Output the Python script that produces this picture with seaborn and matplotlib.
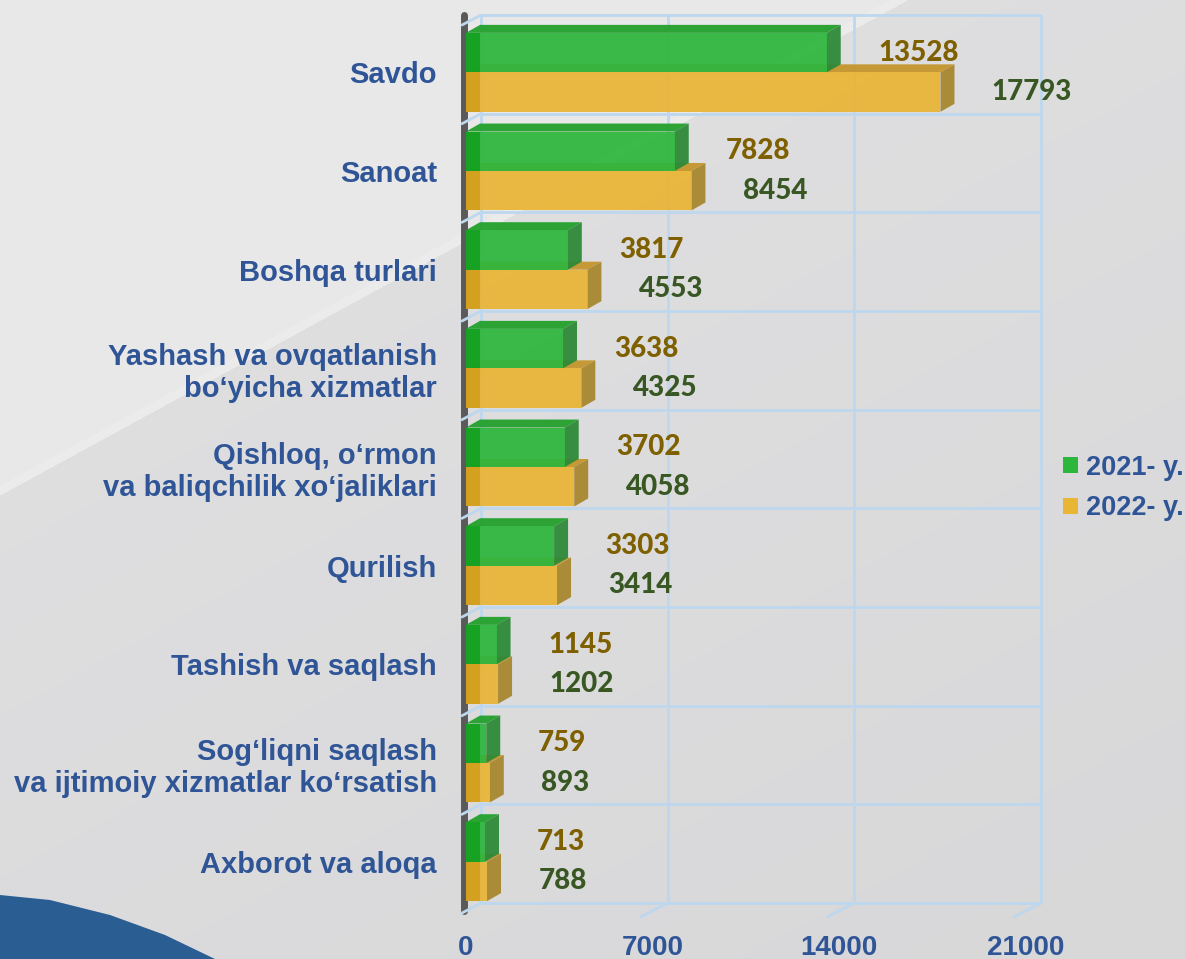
import numpy as np
import pandas as pd
import matplotlib
matplotlib.use("Agg")
import matplotlib.pyplot as plt
import seaborn as sns
from matplotlib.patches import Polygon, Patch
from matplotlib.lines import Line2D
from matplotlib.transforms import offset_copy, IdentityTransform

# ---------------- data ----------------
categories = [
    "Savdo",
    "Sanoat",
    "Boshqa turlari",
    "Yashash va ovqatlanish\nbo\u2018yicha xizmatlar",
    "Qishloq, o\u2018rmon\nva baliqchilik xo\u2018jaliklari",
    "Qurilish",
    "Tashish va saqlash",
    "Sog\u2018liqni saqlash\nva ijtimoiy xizmatlar ko\u2018rsatish",
    "Axborot va aloqa",
]
values_2021 = [13528, 7828, 3817, 3638, 3702, 3303, 1145, 759, 713]
values_2022 = [17793, 8454, 4553, 4325, 4058, 3414, 1202, 893, 788]
series = ["2021- y.", "2022- y."]
x_ticks = [0, 7000, 14000, 21000]

# ---------------- style ----------------
W, H = 1185, 959
GREEN = "#2DB63C"
GREEN_TOP = "#23A02C"
GREEN_SIDE = "#2E8A38"
GREEN_EDGE = "#14A020"
YELLOW = "#E9B535"
YELLOW_TOP = "#C4962C"
YELLOW_SIDE = "#A8872F"
YELLOW_EDGE = "#D29E1C"
BLUE = "#2F5597"
LBL_2021 = "#7F6000"
LBL_2022 = "#385723"
GRID = "#BDD7EE"
DX, DY = 14, 8  # 3D depth in pixels

sns.set_theme(style="white")
plt.rcParams["font.family"] = ["Liberation Sans", "DejaVu Sans"]

fig = plt.figure(figsize=(W / 100, H / 100), dpi=100)
fig.patch.set_facecolor("#DCDCDC")

# ---------------- background ----------------
bg = fig.add_axes([0, 0, 1, 1], zorder=-10)
yy, xx = np.mgrid[0:H, 0:W]
s = xx / 907.0 + yy / 495.0 - 1.0
v = np.where(s < 0, 0.910, 0.872 - 0.012 * np.clip(s, 0, 2))
v = np.where((s > -0.02) & (s < 0.0), 0.922, v)
img = np.dstack([v, v, v + 0.006]).clip(0, 1)
bg.imshow(img, extent=[0, 1, 0, 1], aspect="auto", origin="upper")
blue_shape = [(0, 895), (50, 900), (110, 915), (165, 935), (215, 959), (0, 959)]
bg.add_patch(Polygon([(x / W, 1 - y / H) for x, y in blue_shape],
                     closed=True, facecolor="#2A5E93", edgecolor="none"))
bg.set_xlim(0, 1)
bg.set_ylim(0, 1)
bg.axis("off")

# ---------------- main axes ----------------
left, right, top, bottom = 466, 1026, 23, 911
ax = fig.add_axes([left / W, 1 - bottom / H, (right - left) / W, (bottom - top) / H])
ax.patch.set_visible(False)

df = pd.DataFrame({
    "category": categories * 2,
    "value": values_2021 + values_2022,
    "series": [series[0]] * len(categories) + [series[1]] * len(categories),
})
sns.barplot(data=df, y="category", x="value", hue="series", hue_order=series,
            palette=[GREEN, YELLOW], orient="h", ax=ax, width=0.8,
            saturation=1, legend=False, errorbar=None)

ax.set_xlim(0, 21000)
ax.set_ylim(len(categories) - 0.5, -0.5)
for sp in ax.spines.values():
    sp.set_visible(False)
ax.grid(False)
ax.set_xlabel("")
ax.set_ylabel("")
ax.set_xticks(x_ticks)
ax.set_xticklabels([str(t) for t in x_ticks])
ax.tick_params(axis="x", length=0, pad=17, labelsize=20, labelcolor=BLUE)
ax.tick_params(axis="y", length=0, pad=21, labelsize=21, labelcolor=BLUE)
for t in ax.get_xticklabels() + ax.get_yticklabels():
    t.set_fontweight("bold")
for t in ax.get_yticklabels():
    t.set_linespacing(1.18)

# back-plane grid (offset by depth)
back = offset_copy(ax.transData, fig=fig, x=DX + 1, y=DY, units="dots")
ax.vlines(x_ticks, len(categories) - 0.5, -0.5, colors=GRID, lw=2,
          transform=back, zorder=0.5, clip_on=False)
bounds = np.arange(len(categories) + 1) - 0.5
ax.hlines(bounds, 0, x_ticks[-1], colors=GRID, lw=2, transform=back,
          zorder=0.5, clip_on=False)

ident = IdentityTransform()


def disp(x, y):
    return ax.transData.transform((x, y))


# left wall strip
p_top = disp(0, -0.5)
p_bot = disp(0, len(categories) - 0.5)
ax.add_line(Line2D([p_top[0] - 2, p_bot[0] - 2], [p_top[1] + DY, p_bot[1]],
                   color="#5A5A5A", lw=5, transform=ident, zorder=0.8,
                   clip_on=False))
# floor diagonals
for b in bounds:
    p = disp(0, b)
    ax.add_line(Line2D([p[0] - 4, p[0] + DX + 1], [p[1] - 2, p[1] + DY],
                       color=GRID, lw=2, transform=ident, zorder=0.9,
                       clip_on=False))
for xt in x_ticks[1:]:
    p = disp(xt, len(categories) - 0.5)
    ax.add_line(Line2D([p[0] - 12, p[0] + DX + 1], [p[1] - 6, p[1] + DY],
                       color=GRID, lw=2, transform=ident, zorder=0.9,
                       clip_on=False))

# 3D faces for each bar
face_cols = [(GREEN_TOP, GREEN_SIDE, GREEN_EDGE, 4),
             (YELLOW_TOP, YELLOW_SIDE, YELLOW_EDGE, 2)]
for cont, (ctop, cside, cedge, z) in zip(ax.containers, face_cols):
    for p in cont.patches:
        x0, y0 = p.get_x(), p.get_y()
        x1, y1 = x0 + p.get_width(), y0 + p.get_height()
        tl = disp(x0, y0)
        tr = disp(x1, y0)
        br = disp(x1, y1)
        bl = disp(x0, y1)
        top_face = [tl, tr, tr + (DX, DY), tl + (DX, DY)]
        side_face = [tr, br, br + (DX, DY), tr + (DX, DY)]
        ax.add_patch(Polygon(top_face, closed=True, facecolor=ctop,
                             edgecolor="none", transform=ident, zorder=z,
                             alpha=0.95, clip_on=False))
        ax.add_patch(Polygon(side_face, closed=True, facecolor=cside,
                             edgecolor="none", transform=ident, zorder=z,
                             alpha=0.95, clip_on=False))
        p.set_zorder(z + 1)
        p.set_alpha(0.93)
        p.set_edgecolor("none")
        edge_w = min(DX, abs(tr[0] - tl[0]))
        strip = [tl, tl + (edge_w, 0), bl + (edge_w, 0), bl]
        ax.add_patch(Polygon(strip, closed=True, facecolor=cedge,
                             edgecolor="none", transform=ident, zorder=z + 1.1,
                             alpha=0.9, clip_on=False))

# value labels
for cont, color in zip(ax.containers, [LBL_2021, LBL_2022]):
    for p, val in zip(cont.patches, cont.datavalues):
        ax.annotate(f"{int(val)}", xy=(p.get_x() + p.get_width(),
                                       p.get_y() + p.get_height() / 2),
                    xytext=(37, 0), textcoords="offset points",
                    ha="left", va="center", fontsize=20, fontweight="black",
                    color=color, family=["Lato", "DejaVu Sans"],
                    zorder=10, annotation_clip=False)

# legend
handles = [Patch(facecolor=GREEN, edgecolor="none"),
           Patch(facecolor=YELLOW, edgecolor="none")]
leg = fig.legend(handles, series, loc="center left",
                 bbox_to_anchor=(1052 / W, 1 - 488 / H), frameon=False,
                 handlelength=0.55, handleheight=0.55, handletextpad=0.3,
                 labelspacing=0.55, borderaxespad=0,
                 prop={"family": ["Liberation Sans", "DejaVu Sans"],
                       "weight": "bold", "size": 19.5})
for t in leg.get_texts():
    t.set_color(BLUE)

fig.savefig("out.png", dpi=100)
